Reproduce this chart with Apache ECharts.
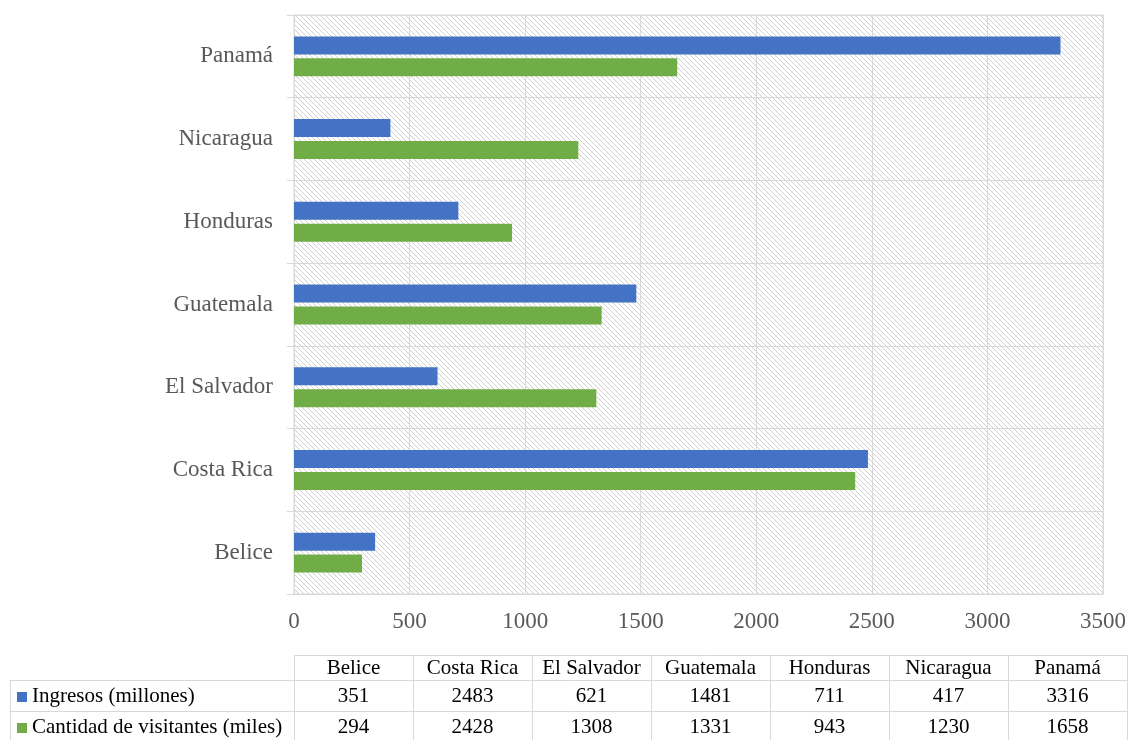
<!DOCTYPE html>
<html><head><meta charset="utf-8">
<script src="https://cdn.jsdelivr.net/npm/echarts@6/dist/echarts.min.js"></script>
<style>html,body{margin:0;padding:0;background:#fff}#c{width:1130px;height:740px}</style>
</head><body><div id="c"></div><script>
const categories = ['Belice','Costa Rica','El Salvador','Guatemala','Honduras','Nicaragua','Panamá'];
const seriesNames = ['Ingresos (millones)','Cantidad de visitantes (miles)'];
const ingresos = [351,2483,621,1481,711,417,3316];
const visitantes = [294,2428,1308,1331,943,1230,1658];
const seriesColors = ['#4472C4','#70AD47'];

const FONT = "'Liberation Serif','Times New Roman',serif";
const GRID = '#d9d9d9';

function hatch(){
  const s = 5;
  const c = document.createElement('canvas');
  c.width = s; c.height = s;
  const ctx = c.getContext('2d');
  ctx.fillStyle = '#ffffff'; ctx.fillRect(0,0,s,s);
  ctx.fillStyle = '#cfcfcf';
  for (let i=0;i<s;i++) ctx.fillRect(i,i,1,1);
  return c;
}

// table layout
const tblLeft = 294, tblRight = 1127, lblLeft = 10;
const rowY = [655, 680, 711, 742];
const colW = (tblRight - tblLeft) / categories.length;
const tableRows = [ingresos, visitantes];

const g = [];
function hline(x1,x2,y){ g.push({type:'line',silent:true,shape:{x1:x1,y1:y+0.5,x2:x2,y2:y+0.5},style:{stroke:GRID,lineWidth:1}}); }
function vline(x,y1,y2){ g.push({type:'line',silent:true,shape:{x1:Math.round(x)+0.5,y1:y1,x2:Math.round(x)+0.5,y2:y2},style:{stroke:GRID,lineWidth:1}}); }
function txt(t,x,y,align){ g.push({type:'text',silent:true,style:{text:String(t),x:x,y:y,align:align,verticalAlign:'middle',font:'21px '+FONT,fill:'#000'}}); }

hline(tblLeft, tblRight, rowY[0]);
hline(lblLeft, tblRight, rowY[1]);
hline(lblLeft, tblRight, rowY[2]);
hline(lblLeft, tblRight, rowY[3]);
vline(lblLeft, rowY[1], rowY[3]);
for (let i=0;i<=categories.length;i++) vline(tblLeft + i*colW, rowY[0], rowY[3]);
categories.forEach((c,i)=>txt(c, tblLeft + (i+0.5)*colW, (rowY[0]+rowY[1])/2+1, 'center'));
tableRows.forEach((arr,r)=>{
  const yc = (rowY[r+1]+rowY[r+2])/2 + 1;
  g.push({type:'rect',silent:true,shape:{x:17,y:Math.round(yc)-5,width:10,height:10},style:{fill:seriesColors[r]}});
  txt(seriesNames[r], 32, yc, 'left');
  arr.forEach((v,i)=>txt(v, tblLeft + (i+0.5)*colW, yc, 'center'));
});

const chart = echarts.init(document.getElementById('c'));
chart.setOption({
  animation:false,
  backgroundColor:'#fff',
  grid:{left:294,right:27,top:15,bottom:146,show:true,borderColor:GRID,borderWidth:1,
        backgroundColor:{image:hatch(),repeat:'repeat'}},
  xAxis:{type:'value',min:0,max:3500,interval:500,
    axisLine:{show:true,lineStyle:{color:GRID}},axisTick:{show:false},
    splitLine:{show:true,lineStyle:{color:GRID,width:1}},
    axisLabel:{fontFamily:FONT,fontSize:23,color:'#595959',margin:16,formatter:v=>String(v)}},
  yAxis:{type:'category',data:categories,
    axisLine:{show:true,lineStyle:{color:GRID}},
    axisTick:{show:true,length:7,lineStyle:{color:GRID}},
    splitLine:{show:true,lineStyle:{color:GRID,width:1}},
    axisLabel:{fontFamily:FONT,fontSize:23,color:'#595959',margin:21}},
  series:[
    {name:seriesNames[0],type:'bar',data:ingresos,barWidth:18,barGap:'22%',itemStyle:{color:seriesColors[0]}},
    {name:seriesNames[1],type:'bar',data:visitantes,barWidth:18,barGap:'22%',itemStyle:{color:seriesColors[1]}}
  ],
  graphic:g
});
</script></body></html>
